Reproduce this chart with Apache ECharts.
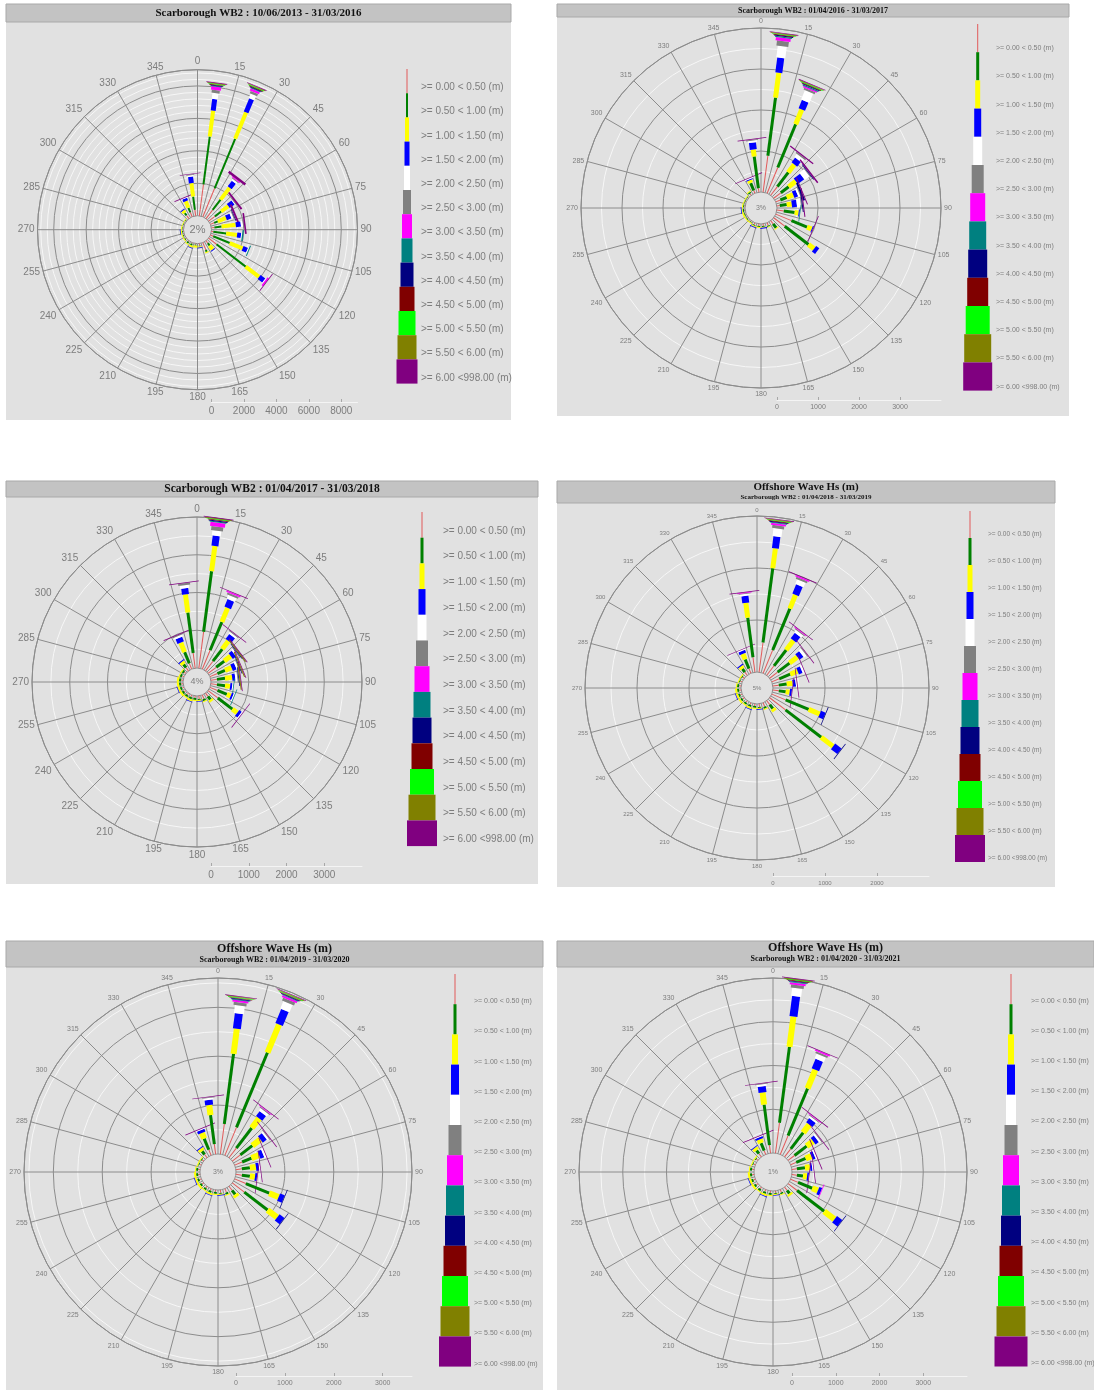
<!DOCTYPE html>
<html>
<head>
<meta charset="utf-8">
<script src="https://cdn.jsdelivr.net/npm/echarts@6/dist/echarts.min.js"></script>
<style>
html, body { margin: 0; padding: 0; background: #ffffff; }
#chart { width: 1094px; height: 1390px; }
</style>
</head>
<body>
<div id="chart"></div>
<script>
// Wave-height classes (Hs, m) and their colours
const binLabels = ['>= 0.00 < 0.50 (m)', '>= 0.50 < 1.00 (m)', '>= 1.00 < 1.50 (m)', '>= 1.50 < 2.00 (m)',
  '>= 2.00 < 2.50 (m)', '>= 2.50 < 3.00 (m)', '>= 3.00 < 3.50 (m)', '>= 3.50 < 4.00 (m)', '>= 4.00 < 4.50 (m)',
  '>= 4.50 < 5.00 (m)', '>= 5.00 < 5.50 (m)', '>= 5.50 < 6.00 (m)', '>= 6.00 <998.00 (m)'];
const binColors = ['#e25a5a', '#008000', '#ffff00', '#0000ff', '#ffffff', '#808080', '#ff00ff',
  '#008080', '#000080', '#800000', '#00ff00', '#808000', '#800080'];

// Direction sector centres (deg, coming-from)
const directions = [7.5, 22.5, 37.5, 52.5, 67.5, 82.5, 97.5, 112.5, 127.5, 142.5, 157.5, 172.5,
  187.5, 202.5, 217.5, 232.5, 247.5, 262.5, 277.5, 292.5, 307.5, 322.5, 337.5, 352.5];

// Record counts per direction sector, one column per Hs class
const rose2013to2016 = [
  [1960, 2970, 1610, 720, 370, 185, 210, 40, 30, 20, 15, 15, 25],
  [1900, 3300, 1765, 880, 300, 150, 150, 50, 30, 20, 30, 30, 25],
  [675, 800, 920, 430, 120, 60, 60, 0, 0, 0, 0, 0, 150],
  [490, 490, 550, 370, 60, 30, 0, 0, 0, 0, 0, 0, 120],
  [245, 245, 550, 300, 120, 60, 0, 0, 30, 0, 0, 0, 120],
  [185, 450, 880, 310, 130, 60, 0, 0, 0, 0, 0, 0, 100],
  [120, 800, 675, 245, 60, 0, 0, 80, 0, 0, 0, 0, 0],
  [185, 1100, 860, 300, 60, 0, 0, 60, 0, 0, 0, 0, 0],
  [610, 2270, 1040, 370, 60, 0, 100, 0, 0, 0, 0, 0, 40],
  [185, 185, 300, 60, 0, 0, 0, 0, 0, 0, 0, 0, 0],
  [490, 120, 60, 0, 0, 0, 0, 0, 0, 0, 0, 0, 0],
  [120, 60, 60, 30, 0, 0, 0, 0, 0, 0, 0, 0, 0],
  [60, 60, 120, 0, 0, 0, 0, 0, 0, 0, 0, 0, 0],
  [60, 120, 120, 30, 0, 0, 0, 0, 0, 0, 0, 0, 0],
  [60, 120, 60, 0, 0, 0, 0, 0, 0, 0, 0, 0, 0],
  [60, 60, 60, 0, 0, 0, 0, 0, 0, 0, 0, 0, 0],
  [50, 60, 60, 0, 0, 0, 0, 0, 0, 0, 0, 0, 0],
  [40, 60, 80, 20, 0, 0, 0, 0, 0, 0, 0, 0, 0],
  [40, 40, 60, 0, 0, 0, 0, 0, 0, 0, 0, 0, 0],
  [40, 30, 20, 0, 0, 0, 0, 0, 0, 0, 0, 0, 0],
  [40, 30, 20, 0, 0, 0, 0, 0, 0, 0, 0, 0, 0],
  [245, 185, 185, 60, 0, 0, 0, 0, 0, 0, 0, 0, 0],
  [300, 300, 430, 180, 40, 0, 0, 0, 0, 0, 0, 0, 30],
  [370, 830, 830, 400, 90, 50, 0, 0, 0, 0, 0, 0, 40]
];
const rose2016to2017 = [
  [895, 1430, 612, 367, 287, 124, 80, 25, 25, 15, 10, 10, 10],
  [680, 1140, 390, 220, 245, 50, 35, 25, 20, 10, 10, 10, 10],
  [267, 437, 243, 146, 97, 36, 0, 0, 0, 0, 0, 0, 30],
  [219, 243, 219, 194, 146, 24, 0, 0, 20, 0, 0, 0, 36],
  [120, 170, 170, 97, 49, 24, 0, 0, 49, 0, 0, 0, 24],
  [73, 170, 122, 122, 97, 24, 0, 0, 24, 0, 0, 0, 24],
  [170, 267, 97, 24, 0, 0, 0, 15, 0, 0, 0, 0, 0],
  [413, 413, 122, 24, 0, 0, 0, 0, 0, 0, 0, 0, 15],
  [340, 730, 170, 97, 0, 0, 0, 0, 0, 0, 0, 0, 0],
  [97, 122, 24, 0, 0, 0, 0, 0, 0, 0, 0, 0, 0],
  [73, 24, 12, 0, 0, 0, 0, 0, 0, 0, 0, 0, 0],
  [49, 24, 12, 24, 0, 0, 0, 0, 0, 0, 0, 0, 0],
  [49, 24, 24, 0, 0, 0, 0, 0, 0, 0, 0, 0, 0],
  [49, 24, 24, 12, 0, 0, 0, 0, 0, 0, 0, 0, 0],
  [24, 12, 24, 0, 0, 0, 0, 0, 0, 0, 0, 0, 0],
  [24, 24, 24, 0, 0, 0, 0, 0, 0, 0, 0, 0, 0],
  [24, 24, 36, 0, 0, 0, 0, 0, 0, 0, 0, 0, 0],
  [24, 36, 24, 12, 0, 0, 0, 0, 0, 0, 0, 0, 0],
  [24, 24, 24, 0, 0, 0, 0, 0, 0, 0, 0, 0, 0],
  [24, 12, 12, 0, 0, 0, 0, 0, 0, 0, 0, 0, 0],
  [24, 12, 12, 0, 0, 0, 0, 0, 0, 0, 0, 0, 0],
  [49, 36, 24, 0, 0, 0, 0, 0, 0, 0, 0, 0, 0],
  [73, 195, 73, 24, 24, 0, 0, 0, 0, 0, 0, 0, 10],
  [97, 780, 170, 170, 50, 24, 0, 0, 0, 0, 0, 0, 20]
];
const rose2017to2018 = [
  [970, 1620, 675, 270, 135, 108, 108, 27, 27, 20, 10, 10, 20],
  [540, 810, 405, 216, 108, 54, 40, 0, 0, 0, 0, 0, 15],
  [324, 405, 270, 162, 54, 27, 0, 0, 0, 0, 0, 0, 20],
  [270, 270, 216, 108, 54, 27, 0, 0, 20, 0, 0, 30, 20],
  [216, 216, 189, 108, 54, 27, 0, 0, 20, 0, 0, 30, 20],
  [162, 216, 189, 81, 54, 27, 0, 0, 20, 0, 0, 30, 10],
  [162, 216, 135, 54, 27, 0, 0, 10, 0, 0, 0, 0, 0],
  [216, 270, 108, 54, 27, 0, 0, 10, 0, 0, 0, 0, 0],
  [324, 486, 162, 81, 27, 0, 0, 0, 0, 0, 0, 0, 5],
  [108, 108, 54, 0, 0, 0, 0, 0, 0, 0, 0, 0, 0],
  [108, 54, 27, 0, 0, 0, 0, 0, 0, 0, 0, 0, 0],
  [81, 27, 27, 10, 0, 0, 0, 0, 0, 0, 0, 0, 0],
  [54, 54, 27, 0, 0, 0, 0, 0, 0, 0, 0, 0, 0],
  [54, 54, 54, 10, 0, 0, 0, 0, 0, 0, 0, 0, 0],
  [54, 54, 27, 0, 0, 0, 0, 0, 0, 0, 0, 0, 0],
  [54, 54, 54, 0, 0, 0, 0, 0, 0, 0, 0, 0, 0],
  [54, 54, 54, 10, 0, 0, 0, 0, 0, 0, 0, 0, 0],
  [54, 54, 54, 0, 0, 0, 0, 0, 0, 0, 0, 0, 0],
  [54, 54, 54, 0, 0, 0, 0, 0, 0, 0, 0, 0, 0],
  [54, 54, 27, 0, 0, 0, 0, 0, 0, 0, 0, 0, 0],
  [54, 54, 27, 0, 0, 0, 0, 0, 0, 0, 0, 0, 0],
  [108, 108, 81, 27, 0, 0, 0, 0, 0, 0, 0, 0, 0],
  [162, 324, 270, 135, 54, 27, 0, 0, 0, 0, 0, 0, 10],
  [405, 1080, 486, 162, 81, 54, 0, 0, 0, 0, 0, 0, 20]
];
const rose2018to2019 = [
  [576, 1440, 384, 230, 154, 58, 38, 15, 15, 10, 5, 5, 10],
  [480, 864, 288, 192, 96, 38, 29, 0, 0, 0, 0, 0, 10],
  [230, 384, 230, 134, 58, 20, 15, 0, 0, 0, 0, 0, 10],
  [192, 288, 192, 96, 58, 20, 0, 0, 0, 0, 0, 0, 10],
  [154, 230, 154, 77, 38, 0, 0, 0, 0, 0, 0, 0, 10],
  [115, 154, 115, 58, 20, 0, 0, 0, 0, 0, 0, 0, 5],
  [115, 134, 77, 38, 0, 0, 0, 0, 0, 0, 0, 0, 5],
  [288, 480, 230, 96, 0, 0, 0, 0, 10, 0, 0, 0, 0],
  [384, 864, 288, 154, 0, 0, 0, 0, 10, 0, 0, 0, 0],
  [96, 96, 58, 0, 0, 0, 0, 0, 0, 0, 0, 0, 0],
  [77, 38, 20, 0, 0, 0, 0, 0, 0, 0, 0, 0, 0],
  [58, 20, 20, 10, 0, 0, 0, 0, 0, 0, 0, 0, 0],
  [38, 38, 20, 0, 0, 0, 0, 0, 0, 0, 0, 0, 0],
  [38, 38, 38, 10, 0, 0, 0, 0, 0, 0, 0, 0, 0],
  [38, 38, 20, 0, 0, 0, 0, 0, 0, 0, 0, 0, 0],
  [38, 38, 38, 0, 0, 0, 0, 0, 0, 0, 0, 0, 0],
  [38, 38, 38, 10, 0, 0, 0, 0, 0, 0, 0, 0, 0],
  [38, 38, 38, 0, 0, 0, 0, 0, 0, 0, 0, 0, 0],
  [38, 38, 20, 0, 0, 0, 0, 0, 0, 0, 0, 0, 0],
  [38, 20, 20, 0, 0, 0, 0, 0, 0, 0, 0, 0, 0],
  [38, 20, 20, 0, 0, 0, 0, 0, 0, 0, 0, 0, 0],
  [77, 77, 58, 20, 0, 0, 0, 0, 0, 0, 0, 0, 0],
  [96, 192, 115, 58, 20, 0, 0, 0, 0, 0, 0, 0, 5],
  [288, 768, 288, 134, 38, 10, 10, 0, 0, 0, 0, 0, 5]
];
const rose2019to2020 = [
  [621, 1450, 518, 311, 166, 62, 41, 15, 15, 10, 5, 5, 10],
  [621, 1656, 621, 311, 166, 62, 41, 15, 15, 10, 5, 5, 10],
  [248, 518, 248, 124, 62, 20, 15, 0, 0, 0, 0, 0, 10],
  [207, 310, 207, 104, 41, 20, 0, 0, 0, 0, 0, 0, 10],
  [166, 207, 166, 83, 41, 0, 0, 0, 0, 0, 0, 0, 5],
  [124, 166, 124, 62, 20, 0, 0, 0, 0, 0, 0, 0, 5],
  [124, 166, 104, 41, 0, 0, 0, 0, 0, 0, 0, 0, 5],
  [248, 518, 207, 104, 0, 0, 0, 0, 10, 0, 0, 0, 0],
  [310, 600, 248, 124, 0, 0, 0, 0, 10, 0, 0, 0, 0],
  [104, 104, 62, 0, 0, 0, 0, 0, 0, 0, 0, 0, 0],
  [83, 41, 20, 0, 0, 0, 0, 0, 0, 0, 0, 0, 0],
  [62, 20, 20, 10, 0, 0, 0, 0, 0, 0, 0, 0, 0],
  [41, 41, 20, 0, 0, 0, 0, 0, 0, 0, 0, 0, 0],
  [41, 41, 41, 10, 0, 0, 0, 0, 0, 0, 0, 0, 0],
  [41, 41, 20, 0, 0, 0, 0, 0, 0, 0, 0, 0, 0],
  [41, 41, 41, 0, 0, 0, 0, 0, 0, 0, 0, 0, 0],
  [41, 41, 41, 10, 0, 0, 0, 0, 0, 0, 0, 0, 0],
  [41, 41, 41, 0, 0, 0, 0, 0, 0, 0, 0, 0, 0],
  [41, 41, 20, 0, 0, 0, 0, 0, 0, 0, 0, 0, 0],
  [41, 20, 20, 0, 0, 0, 0, 0, 0, 0, 0, 0, 0],
  [41, 20, 20, 0, 0, 0, 0, 0, 0, 0, 0, 0, 0],
  [83, 83, 62, 20, 0, 0, 0, 0, 0, 0, 0, 0, 0],
  [124, 248, 124, 62, 20, 0, 0, 0, 0, 0, 0, 0, 5],
  [207, 600, 207, 104, 41, 10, 0, 0, 0, 0, 0, 0, 5]
];
const rose2020to2021 = [
  [700, 1750, 700, 466, 186, 70, 47, 20, 20, 10, 5, 5, 10],
  [466, 1165, 466, 233, 117, 47, 35, 0, 0, 0, 0, 0, 10],
  [233, 466, 233, 117, 47, 20, 15, 0, 0, 0, 0, 0, 10],
  [186, 350, 186, 93, 47, 20, 0, 0, 0, 0, 0, 0, 10],
  [140, 233, 140, 70, 35, 0, 0, 0, 0, 0, 0, 0, 5],
  [117, 186, 117, 47, 23, 0, 0, 0, 0, 0, 0, 0, 5],
  [117, 140, 93, 35, 0, 0, 0, 0, 0, 0, 0, 0, 5],
  [186, 350, 140, 70, 0, 0, 10, 0, 0, 0, 0, 0, 0],
  [260, 780, 300, 150, 0, 0, 0, 0, 10, 0, 0, 0, 0],
  [93, 93, 47, 0, 0, 0, 0, 0, 0, 0, 0, 0, 0],
  [70, 35, 20, 0, 0, 0, 0, 0, 0, 0, 0, 0, 0],
  [47, 23, 23, 10, 0, 0, 0, 0, 0, 0, 0, 0, 0],
  [47, 47, 23, 0, 0, 0, 0, 0, 0, 0, 0, 0, 0],
  [47, 47, 47, 10, 0, 0, 0, 0, 0, 0, 0, 0, 0],
  [47, 47, 23, 0, 0, 0, 0, 0, 0, 0, 0, 0, 0],
  [47, 47, 47, 0, 0, 0, 0, 0, 0, 0, 0, 0, 0],
  [47, 47, 47, 10, 0, 0, 0, 0, 0, 0, 0, 0, 0],
  [47, 47, 47, 0, 0, 0, 0, 0, 0, 0, 0, 0, 0],
  [47, 47, 23, 0, 0, 0, 0, 0, 0, 0, 0, 0, 0],
  [47, 23, 23, 0, 0, 0, 0, 0, 0, 0, 0, 0, 0],
  [47, 23, 23, 0, 0, 0, 0, 0, 0, 0, 0, 0, 0],
  [93, 93, 70, 20, 0, 0, 0, 0, 0, 0, 0, 0, 0],
  [93, 186, 93, 47, 20, 0, 0, 0, 0, 0, 0, 0, 5],
  [186, 933, 280, 140, 47, 10, 0, 0, 0, 0, 0, 0, 5]
];

// Panel titles and calm percentages
const panelTitles = [
  ['Scarborough WB2 : 10/06/2013 - 31/03/2016'],
  ['Scarborough WB2 : 01/04/2016 - 31/03/2017'],
  ['Scarborough WB2 : 01/04/2017 - 31/03/2018'],
  ['Offshore Wave Hs (m)', 'Scarborough WB2 : 01/04/2018 - 31/03/2019'],
  ['Offshore Wave Hs (m)', 'Scarborough WB2 : 01/04/2019 - 31/03/2020'],
  ['Offshore Wave Hs (m)', 'Scarborough WB2 : 01/04/2020 - 31/03/2021']
];
const calmLabels = ['2%', '3%', '4%', '5%', '3%', '1%'];
const countAxisMax = [9000, 4000, 4000, 3000, 3600, 4000];
const countAxisStep = [2000, 1000, 1000, 1000, 1000, 1000];

const roseData = [rose2013to2016, rose2016to2017, rose2017to2018, rose2018to2019, rose2019to2020, rose2020to2021];

// Layout of each panel (pixels)
const layouts = [
  { box: [6, 4, 505, 416], barH: 18, titleY: [13], titleF: [11], c: [197.5, 229.7], r0: 14, R: 160, minor: 5, af: 10, am: 3, cf: 11,
    lg: { x: 407, top: 69, h: 24.2, lx: 421, ly: 0.76, f: 10 }, w: [1, 2, 4, 5, 6, 8, 10, 11, 13, 15, 17, 19, 21], sy: 402, sf: 10 },
  { box: [557, 4, 512, 412], barH: 13, titleY: [10.5], titleF: [8], c: [761, 208], r0: 16, R: 180, minor: 2, af: 7, am: 3, cf: 7,
    lg: { x: 977.7, top: 24, h: 28.2, lx: 996, ly: 0.86, f: 7 }, w: [1, 3, 5, 7, 9, 12, 15, 17, 19, 21, 24, 27, 29], sy: 400, sf: 7 },
  { box: [6, 481, 532, 403], barH: 16, titleY: [489], titleF: [11.5], c: [197, 682], r0: 14, R: 165, minor: 2, af: 10, am: 3, cf: 9,
    lg: { x: 422, top: 512, h: 25.7, lx: 443, ly: 0.74, f: 10 }, w: [1, 3, 5, 7, 9, 12, 15, 17, 19, 21, 24, 27, 30], sy: 866, sf: 10 },
  { box: [557, 481, 498, 406], barH: 22, titleY: [487, 497], titleF: [11, 7], c: [757, 688], r0: 16, R: 172, minor: 2, af: 6, am: 3, cf: 6,
    lg: { x: 970, top: 511, h: 27, lx: 988, ly: 0.85, f: 6.5 }, w: [1, 3, 5, 7, 9, 12, 15, 17, 19, 21, 24, 27, 30], sy: 876, sf: 6 },
  { box: [6, 941, 537, 449], barH: 26, titleY: [949, 960], titleF: [12, 8], c: [218, 1172], r0: 18, R: 194, minor: 2, af: 7, am: 3, cf: 7,
    lg: { x: 455, top: 974, h: 30.2, lx: 474, ly: 0.9, f: 7 }, w: [1, 3, 6, 8, 10, 13, 16, 18, 20, 23, 26, 29, 32], sy: 1376, sf: 7 },
  { box: [557, 941, 537, 449], barH: 26, titleY: [948, 959], titleF: [12, 8], c: [773, 1172], r0: 19, R: 194, minor: 2, af: 7, am: 3, cf: 7,
    lg: { x: 1011, top: 974, h: 30.2, lx: 1031, ly: 0.88, f: 7 }, w: [1, 3, 6, 8, 10, 13, 16, 18, 20, 23, 26, 29, 33], sy: 1376, sf: 7 }
];

const SANS = '"Liberation Sans", Arial, sans-serif';
const SERIF = '"Liberation Serif", "Times New Roman", serif';
const GRID_DARK = '#8c8c8c';
const TEXT_GREY = '#7d7d7d';
const MIN_BAND_PX = 0.7;

// Each sector is a stack of straight bands; band width grows with the Hs class
function makeRoseRenderer(widths, maxCount) {
  return function (params, api) {
    const angle = api.value(0);
    // sector axis: from the calm circle outwards
    const p0 = api.coord([0, angle]);
    const p1 = api.coord([maxCount, angle]);
    const L = Math.hypot(p1[0] - p0[0], p1[1] - p0[1]);
    const ux = (p1[0] - p0[0]) / L, uy = (p1[1] - p0[1]) / L;
    const children = [];
    let cum = 0;
    let extra = 0; // pixels added so very short bands stay visible
    for (let b = 0; b < binColors.length; b++) {
      const v = api.value(b + 1);
      if (!(v > 0)) continue;
      const e0 = api.coord([cum, angle]);
      const e1 = api.coord([cum + v, angle]);
      cum += v;
      const d0 = (e0[0] - p0[0]) * ux + (e0[1] - p0[1]) * uy;
      const d1 = (e1[0] - p0[0]) * ux + (e1[1] - p0[1]) * uy;
      const s0 = d0 + extra;
      if (d1 - d0 < MIN_BAND_PX) extra += MIN_BAND_PX - (d1 - d0);
      const s1 = d1 + extra;
      const hw = widths[b] / 2;
      const nx = -uy * hw, ny = ux * hw;
      const ax = p0[0] + ux * s0, ay = p0[1] + uy * s0;
      const cx = p0[0] + ux * s1, cy = p0[1] + uy * s1;
      children.push({
        type: 'polygon',
        shape: { points: [[ax + nx, ay + ny], [cx + nx, cy + ny], [cx - nx, cy - ny], [ax - nx, ay - ny]] },
        style: { fill: binColors[b] }
      });
    }
    return { type: 'group', children: children };
  };
}

const option = {
  animation: false,
  backgroundColor: '#ffffff',
  polar: [], angleAxis: [], radiusAxis: [], grid: [], xAxis: [], yAxis: [], series: [], graphic: []
};

layouts.forEach(function (p, i) {
  const max = countAxisMax[i], step = countAxisStep[i];
  const ringColors = ['#ededed'];
  for (let k = 0; k < 20; k++) ringColors.push(GRID_DARK);

  option.polar.push({ center: p.c, radius: [p.r0, p.R] });
  option.angleAxis.push({
    polarIndex: i, type: 'value', min: 0, max: 360, interval: 15, startAngle: 90, clockwise: true,
    axisLine: { lineStyle: { color: GRID_DARK, width: 1 } },
    axisTick: { show: false },
    axisLabel: { color: TEXT_GREY, fontSize: p.af, fontFamily: SANS, margin: p.am,
      formatter: function (v) { return v >= 360 ? '' : String(v); } },
    splitLine: { show: true, lineStyle: { color: GRID_DARK, width: 1 } }
  });
  option.radiusAxis.push({
    polarIndex: i, type: 'value', min: 0, max: max, interval: step,
    axisLine: { show: false }, axisTick: { show: false }, axisLabel: { show: false },
    splitLine: { show: true, lineStyle: { color: ringColors, width: 1 } },
    minorTick: { show: false, splitNumber: p.minor },
    minorSplitLine: { show: true, lineStyle: { color: '#f7f7f7', width: 1 } }
  });
  option.series.push({
    type: 'custom', coordinateSystem: 'polar', polarIndex: i, silent: true, z: 5,
    data: roseData[i].map(function (row, k) { return [directions[k]].concat(row); }),
    encode: { radius: 1, angle: 0 },
    renderItem: makeRoseRenderer(p.w, max)
  });

  // count scale under the rose
  option.grid.push({ left: p.c[0] + p.r0, top: p.sy - 10, width: p.R - p.r0, height: 10 });
  option.xAxis.push({
    gridIndex: i, type: 'value', min: 0, max: max, interval: step,
    axisLine: { lineStyle: { color: '#f4f4f4', width: 1 } },
    axisTick: { inside: true, length: 3, lineStyle: { color: '#a8a8a8' } },
    axisLabel: { showMaxLabel: false, color: TEXT_GREY, fontSize: p.sf, fontFamily: SANS, margin: 4,
      formatter: function (v) { return String(v); } },
    splitLine: { show: false }
  });
  option.yAxis.push({ gridIndex: i, type: 'value', show: false });

  // panel frame and title bar
  const bx = p.box;
  option.graphic.push({ type: 'rect', z: -10, silent: true, shape: { x: bx[0], y: bx[1], width: bx[2], height: bx[3] }, style: { fill: '#e1e1e1' } });
  option.graphic.push({ type: 'rect', z: -9, silent: true, shape: { x: bx[0], y: bx[1], width: bx[2], height: p.barH }, style: { fill: '#c3c3c3', stroke: '#a9a9a9', lineWidth: 1 } });
  panelTitles[i].forEach(function (t, k) {
    option.graphic.push({ type: 'text', z: 20, silent: true, x: bx[0] + bx[2] / 2, y: p.titleY[k],
      style: { text: t, fill: '#111', font: 'bold ' + p.titleF[k] + 'px ' + SERIF, textAlign: 'center', textVerticalAlign: 'middle' } });
  });
  // calm percentage in the centre
  option.graphic.push({ type: 'text', z: 20, silent: true, x: p.c[0], y: p.c[1],
    style: { text: calmLabels[i], fill: TEXT_GREY, font: p.cf + 'px ' + SANS, textAlign: 'center', textVerticalAlign: 'middle' } });
  // Hs class key
  binColors.forEach(function (col, b) {
    const y = p.lg.top + b * p.lg.h;
    option.graphic.push({ type: 'rect', z: 20, silent: true,
      shape: { x: p.lg.x - p.w[b] / 2, y: y, width: p.w[b], height: p.lg.h }, style: { fill: col } });
    option.graphic.push({ type: 'text', z: 20, silent: true, x: p.lg.lx, y: y + p.lg.ly * p.lg.h,
      style: { text: binLabels[b], fill: TEXT_GREY, font: p.lg.f + 'px ' + SANS, textAlign: 'left', textVerticalAlign: 'middle' } });
  });
});

const chart = echarts.init(document.getElementById('chart'), null, { renderer: 'canvas' });
chart.setOption(option);
</script>
</body>
</html>
